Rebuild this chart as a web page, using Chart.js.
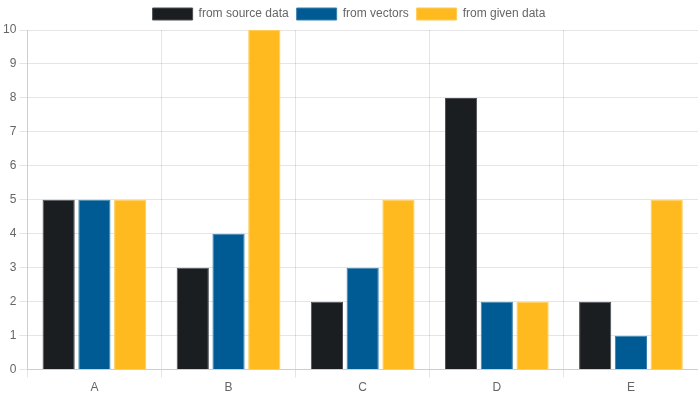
<!DOCTYPE html>
<html>
<head>
<meta charset="utf-8">
<script src="https://cdn.jsdelivr.net/npm/chart.js@4"></script>
<style>
  html, body { margin: 0; padding: 0; background: #fff; }
  #wrap { width: 698px; height: 398px; }
</style>
</head>
<body>
<div id="wrap"><canvas id="c"></canvas></div>
<script>
const categories = ['A', 'B', 'C', 'D', 'E'];
const sourceData = [5, 3, 2, 8, 2];
const vectorData = [5, 4, 3, 2, 1];
const givenData = [5, 10, 5, 2, 5];

const colors = {
  black:  { fill: '#1b1e21', border: '#4a4e53' },
  blue:   { fill: '#005b94', border: '#3a80ad' },
  yellow: { fill: '#ffba1f', border: '#ffcb55' },
};

function ds(label, data, c) {
  return {
    label,
    data,
    backgroundColor: c.fill,
    borderColor: c.border,
    borderWidth: 1,
  };
}

new Chart(document.getElementById('c'), {
  type: 'bar',
  data: {
    labels: categories,
    datasets: [
      ds('from source data', sourceData, colors.black),
      ds('from vectors', vectorData, colors.blue),
      ds('from given data', givenData, colors.yellow),
    ],
  },
  options: {
    responsive: true,
    maintainAspectRatio: false,
    animation: false,
    plugins: {
      legend: { labels: { color: '#666', font: { size: 12 }, padding: 8 } },
      tooltip: { enabled: false },
    },
    scales: {
      x: { ticks: { color: '#666' } },
      y: {
        min: 0,
        max: 10,
        ticks: { stepSize: 1, color: '#666' },
      },
    },
  },
});
</script>
</body>
</html>
